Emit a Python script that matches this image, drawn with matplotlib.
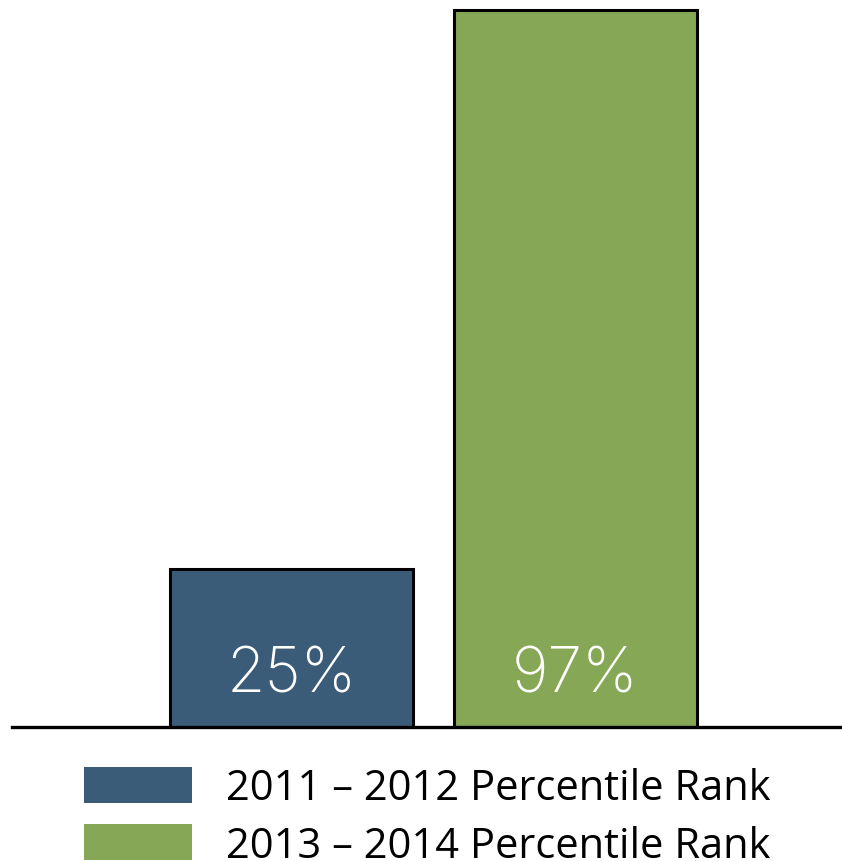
import matplotlib
matplotlib.use("Agg")
import matplotlib.pyplot as plt
import matplotlib.patches as mpatches

categories = ["2011 – 2012 Percentile Rank", "2013 – 2014 Percentile Rank"]
values = [25, 97]
labels = ["25%", "97%"]
colors = ["#3B5C78", "#86A856"]

W, H = 842, 862
fig = plt.figure(figsize=(W / 100, H / 100), dpi=100)
ax = fig.add_axes([12 / W, 1 - 728 / H, 830 / W, 728 / H])

x = [0, 1]
bars = ax.bar(x, values, width=0.856, color=colors, edgecolor="black",
              linewidth=2.2, label=categories, zorder=2)
ax.set_xlim(-0.984, 1.938)
ax.set_ylim(4.65, 98.45)

for xi, lab in zip(x, labels):
    ax.text(xi, 7.6, lab, ha="center", va="bottom", color="white",
            fontsize=45, family="Inter", fontweight="light", zorder=3)

for s in ["top", "right", "left"]:
    ax.spines[s].set_visible(False)
ax.spines["bottom"].set_linewidth(2.4)
ax.spines["bottom"].set_zorder(4)
ax.set_xticks([])
ax.set_yticks([])

hs = [mpatches.Patch(facecolor=c, edgecolor="none") for c in colors]
fig.legend(hs, categories, loc="upper left",
           bbox_to_anchor=(84 / W, 1 - 768 / H), frameon=False,
           prop={"family": "Open Sans", "size": 30},
           handlelength=2.6, handleheight=0.95, handletextpad=0.8,
           labelspacing=0.36, borderpad=0, borderaxespad=0)

fig.savefig("out.png", dpi=100)
